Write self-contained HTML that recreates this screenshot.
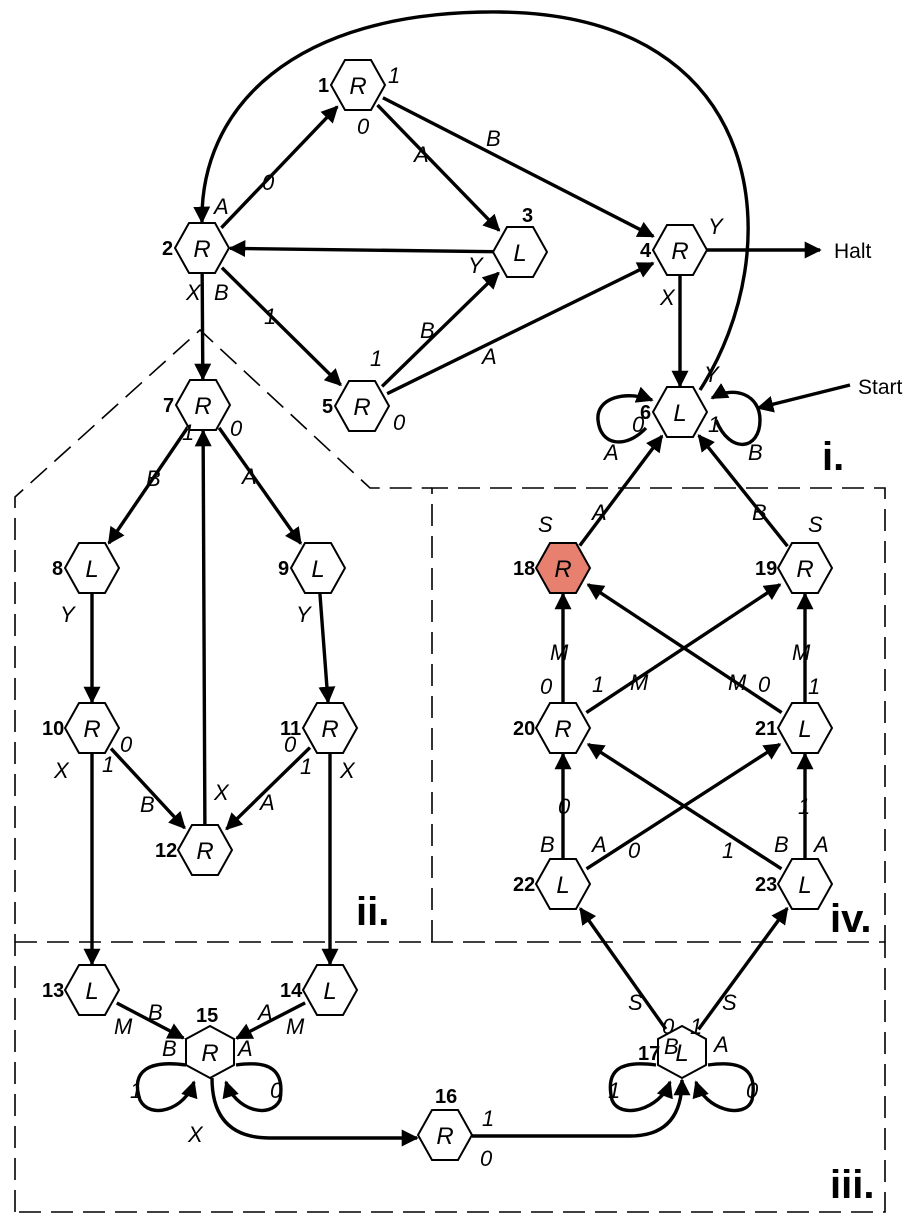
<!DOCTYPE html>
<html><head><meta charset="utf-8"><style>
html,body{margin:0;padding:0;background:#fff;}
svg{display:block;}
text{font-family:"Liberation Sans",sans-serif;fill:#000;}
.lab{font-style:italic;font-size:22px;}
.nl{font-style:italic;font-size:24px;}
.num{font-weight:bold;font-size:20px;}
.big{font-weight:bold;font-size:40px;}
</style></head><body>
<svg id="s" width="924" height="1222" viewBox="0 0 924 1222">
<defs><marker id="ar" viewBox="0 0 10 10" refX="9" refY="5" markerWidth="5" markerHeight="5" orient="auto-start-reverse"><path d="M0,0 L10,5 L0,10 z" fill="#000"/></marker></defs>
<g fill="none" stroke="#000" stroke-width="1.6" stroke-dasharray="22,10">
<path d="M15,1212 L15,497 L200,330 L370,488 L432,488"/>
<path d="M432,942 L432,488 L885,488 L885,942"/>
<path d="M15,942 L885,942 L885,1212 L15,1212"/>
</g>
<g id="edges" stroke="#000" stroke-width="3.4" fill="none"></g>
<g id="curves" stroke="#000" stroke-width="3.4" fill="none">
<path d="M700,390 C790,250 770,15 500,12 C290,10 200,110 202,222" marker-end="url(#ar)"/>
<path d="M212,1078 Q212,1138 270,1138 L417,1138" marker-end="url(#ar)"/>
<path d="M472,1136 L630,1136 Q682,1136 682,1080" marker-end="url(#ar)"/>
<path d="M646,428 C625,450 600,445 598,420 C596,398 625,390 652,400" marker-end="url(#ar)"/>
<path d="M716,420 C730,455 760,450 760,420 C760,395 735,385 712,398" marker-end="url(#ar)"/>
<path d="M850,385 L758,408" marker-end="url(#ar)"/>
<path d="M706,250 L820,250" marker-end="url(#ar)"/>
<path d="M186,1065 C150,1060 130,1070 140,1100 C150,1120 185,1110 194,1082" marker-end="url(#ar)"/>
<path d="M236,1065 C270,1060 285,1070 280,1100 C270,1120 235,1110 226,1082" marker-end="url(#ar)"/>
<path d="M656,1065 C620,1060 605,1070 612,1100 C620,1120 660,1110 670,1082" marker-end="url(#ar)"/>
<path d="M708,1065 C742,1060 758,1070 752,1100 C745,1120 705,1110 696,1082" marker-end="url(#ar)"/>
</g>
<g id="nodes"></g>
<g>
<text class="lab" x="214" y="214">A</text><text class="lab" x="262" y="190">0</text>
<text class="lab" x="357" y="134">0</text><text class="lab" x="414" y="162">A</text>
<text class="lab" x="486" y="146">B</text><text class="lab" x="468" y="273">Y</text>
<text class="lab" x="186" y="300">X</text><text class="lab" x="214" y="300">B</text>
<text class="lab" x="264" y="324">1</text><text class="lab" x="370" y="366">1</text>
<text class="lab" x="420" y="338">B</text><text class="lab" x="482" y="364">A</text>
<text class="lab" x="393" y="430">0</text><text class="lab" x="660" y="305">X</text>
<text class="lab" x="708" y="234">Y</text><text class="lab" x="704" y="382">Y</text>
<text class="lab" x="632" y="432">0</text><text class="lab" x="708" y="432">1</text>
<text class="lab" x="604" y="460">A</text><text class="lab" x="748" y="460">B</text>
<text class="lab" x="182" y="440">1</text><text class="lab" x="230" y="436">0</text>
<text class="lab" x="146" y="486">B</text><text class="lab" x="242" y="484">A</text>
<text class="lab" x="60" y="622">Y</text><text class="lab" x="296" y="622">Y</text>
<text class="lab" x="54" y="778">X</text><text class="lab" x="102" y="772">1</text>
<text class="lab" x="120" y="752">0</text><text class="lab" x="140" y="812">B</text>
<text class="lab" x="214" y="800">X</text><text class="lab" x="260" y="810">A</text>
<text class="lab" x="284" y="752">0</text><text class="lab" x="300" y="774">1</text>
<text class="lab" x="340" y="778">X</text>
<text class="lab" x="114" y="1034">M</text><text class="lab" x="148" y="1020">B</text>
<text class="lab" x="258" y="1020">A</text><text class="lab" x="286" y="1034">M</text>
<text class="lab" x="162" y="1056">B</text><text class="lab" x="238" y="1056">A</text>
<text class="lab" x="130" y="1098">1</text><text class="lab" x="270" y="1098">0</text>
<text class="lab" x="188" y="1142">X</text>
<text class="lab" x="482" y="1126">1</text><text class="lab" x="480" y="1166">0</text>
<text class="lab" x="664" y="1054">B</text><text class="lab" x="714" y="1052">A</text>
<text class="lab" x="608" y="1098">1</text><text class="lab" x="746" y="1098">0</text>
<text class="lab" x="628" y="1010">S</text><text class="lab" x="722" y="1010">S</text>
<text class="lab" x="662" y="1034">0</text><text class="lab" x="690" y="1034">1</text>
<text class="lab" x="540" y="852">B</text><text class="lab" x="592" y="852">A</text>
<text class="lab" x="628" y="858">0</text><text class="lab" x="722" y="858">1</text>
<text class="lab" x="774" y="852">B</text><text class="lab" x="814" y="852">A</text>
<text class="lab" x="558" y="814">0</text><text class="lab" x="798" y="814">1</text>
<text class="lab" x="540" y="694">0</text><text class="lab" x="592" y="692">1</text>
<text class="lab" x="630" y="690">M</text><text class="lab" x="728" y="690">M</text>
<text class="lab" x="758" y="692">0</text><text class="lab" x="808" y="694">1</text>
<text class="lab" x="550" y="660">M</text><text class="lab" x="792" y="660">M</text>
<text class="lab" x="538" y="532">S</text><text class="lab" x="592" y="520">A</text>
<text class="lab" x="752" y="520">B</text><text class="lab" x="808" y="532">S</text>
</g>
<text x="834" y="258" style="font-size:21px">Halt</text>
<text x="858" y="394" style="font-size:21px">Start</text>
<text class="big" x="822" y="470">i.</text>
<text class="big" x="356" y="925">ii.</text>
<text class="big" x="830" y="1198">iii.</text>
<text class="big" x="830" y="932">iv.</text>
</svg>
<script>
const nodeIds=[1,2,3,4,5,6,7,8,9,10,11,12,13,14,15,16,17,18,19,20,21,22,23];
const nodeLetters=["R","R","L","R","R","L","R","L","L","R","R","R","L","L","R","R","L","R","R","R","L","L","L"];
const nodeX=[358,202,520,680,362,680,203,92,318,92,330,205,92,330,210,445,682,563,805,563,805,563,805];
const nodeY=[85,248,252,250,406,412,405,568,568,728,728,850,990,990,1052,1135,1052,568,568,728,728,884,884];
const edgeFrom=[2,1,1,3,2,5,5,4,2,7,7,8,9,10,11,12,10,11,13,14,17,17,22,22,23,23,20,20,21,21,18,19];
const edgeTo  =[1,3,4,2,5,3,4,6,7,8,9,10,11,12,12,7,13,14,15,15,22,23,20,21,20,21,18,19,18,19,6,6];
const NS="http://www.w3.org/2000/svg";
const P=i=>({x:nodeX[nodeIds.indexOf(i)],y:nodeY[nodeIds.indexOf(i)]});
const eg=document.getElementById('edges');
edgeFrom.forEach((f,k)=>{
  const a=P(f),b=P(edgeTo[k]);
  const dx=b.x-a.x,dy=b.y-a.y,L=Math.hypot(dx,dy),ux=dx/L,uy=dy/L;
  const r=(u)=>{const ax=Math.abs(u.x),ay=Math.abs(u.y);return Math.min(26/Math.max(ax,0.001),24/Math.max(ay,0.001),28);};
  const ra=r({x:ux,y:uy}),rb=r({x:ux,y:uy})+2;
  const l=document.createElementNS(NS,'line');
  l.setAttribute('x1',a.x+ux*ra);l.setAttribute('y1',a.y+uy*ra);
  l.setAttribute('x2',b.x-ux*rb);l.setAttribute('y2',b.y-uy*rb);
  l.setAttribute('marker-end','url(#ar)');
  
  
  eg.appendChild(l);
});
const ng=document.getElementById('nodes');
nodeIds.forEach((id,i)=>{
  const x=nodeX[i],y=nodeY[i];
  const g=document.createElementNS(NS,'g');
  
  
  const p=document.createElementNS(NS,'polygon');
  let pts;
  if(id===15||id===17) pts=[[0,-26],[24,-13],[24,13],[0,26],[-24,13],[-24,-13]];
  else pts=[[-27,0],[-13,-25],[13,-25],[27,0],[13,25],[-13,25]];
  p.setAttribute('points',pts.map(q=>(x+q[0])+','+(y+q[1])).join(' '));
  p.setAttribute('fill',id===18?'#e8806f':'#fff');
  p.setAttribute('stroke','#000');p.setAttribute('stroke-width','2');
  g.appendChild(p);
  const t=document.createElementNS(NS,'text');
  t.setAttribute('x',x);t.setAttribute('y',y+9);t.setAttribute('text-anchor','middle');
  t.setAttribute('class','nl');t.textContent=nodeLetters[i];
  g.appendChild(t);
  const n=document.createElementNS(NS,'text');
  n.setAttribute('class','num');
  if(id===15){n.setAttribute('x',x-14);n.setAttribute('y',y-30);}
  else if(id===17){n.setAttribute('x',x-44);n.setAttribute('y',y+8);}
  else if(id===12){n.setAttribute('x',x-50);n.setAttribute('y',y+7);}
  else if(id===16){n.setAttribute('x',x-10);n.setAttribute('y',y-32);}
  else if(id===3){n.setAttribute('x',x+2);n.setAttribute('y',y-30);}
  else{n.setAttribute('x',x-28-(id>9?22:12));n.setAttribute('y',y+7);}
  n.textContent=id;
  g.appendChild(n);
  if(id===1){const o=document.createElementNS(NS,'text');o.setAttribute('class','lab');o.setAttribute('x',x+30);o.setAttribute('y',y-2);o.textContent='1';g.appendChild(o);}
  ng.appendChild(g);
});
</script>
</body></html>
